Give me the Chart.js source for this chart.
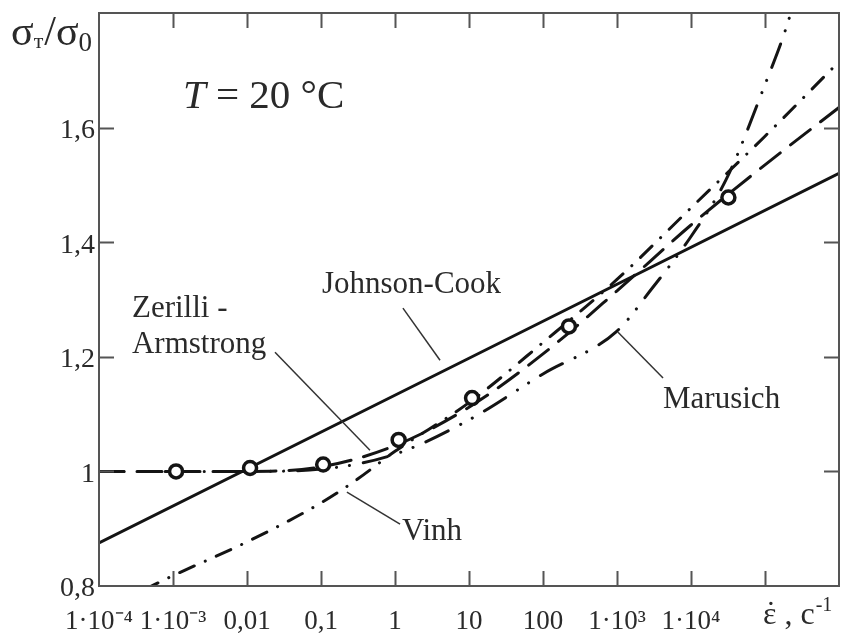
<!DOCTYPE html>
<html>
<head>
<meta charset="utf-8">
<script src="https://cdn.jsdelivr.net/npm/chart.js@4.4.1/dist/chart.umd.min.js"></script>
<style>
  html, body { margin: 0; padding: 0; background: #fff; }
  #wrap { width: 843px; height: 642px; }
</style>
</head>
<body>
<div id="wrap"><canvas id="chart" width="843" height="642"></canvas></div>
<script>
// axis ticks
const xTicks = [1e-4, 1e-3, 1e-2, 1e-1, 1, 10, 100, 1e3, 1e4, 1e5];
const xTickLabels = ['1·10⁻⁴', '1·10⁻³', '0,01', '0,1', '1', '10', '100', '1·10³', '1·10⁴', ''];
const yTicks = [0.8, 1.0, 1.2, 1.4, 1.6];
const yTickLabels = ['0,8', '1', '1,2', '1,4', '1,6'];

// Johnson-Cook
const jcRate = [1e-4, 1e6];
const jcStress = [0.875, 1.52];

// Zerilli - Armstrong
const zaRate = [1e-4, 1e-3, 1e-2, 0.1, 1, 10, 100, 1e3, 1e4, 1e5, 1e6];
const zaStress = [1.0, 1.0, 1.0, 1.008, 1.045, 1.112, 1.205, 1.315, 1.43, 1.535, 1.635];

// Vinh
const vinhRate = [4e-4, 1e-3, 1e-2, 0.1, 0.3, 1, 10, 100, 1e3, 1e4, 1e5, 1e6];
const vinhStress = [0.793, 0.818, 0.877, 0.945, 0.985, 1.035, 1.12, 1.225, 1.335, 1.46, 1.585, 1.715];

// Marusich
const marRate = [1e-4, 1e-3, 1e-2, 0.1, 1, 10, 100, 1e3, 3e3, 1e4, 3e4, 1e5, 2e5, 3e5];
const marStress = [1.0, 1.0, 1.0, 1.004, 1.03, 1.09, 1.17, 1.245, 1.32, 1.41, 1.51, 1.675, 1.78, 1.86];

// experiment
const expRate = [1.1e-3, 1.1e-2, 0.107, 1.12, 11, 224, 3.2e4];
const expStress = [1.0, 1.006, 1.012, 1.055, 1.128, 1.253, 1.478];

// curve labels and leader lines, in data coords
const notes = [
  { lines: ['Johnson-Cook'], rate: 0.103, val: 1.311, from: [1.28, 1.285], to: [4.06, 1.194] },
  { lines: ['Zerilli -', 'Armstrong'], rate: 2.79e-4, val: 1.269, from: [0.0239, 1.208], to: [0.459, 1.037] },
  { lines: ['Vinh'], rate: 1.24, val: 0.880, from: [0.224, 0.964], to: [1.17, 0.908] },
  { lines: ['Marusich'], rate: 4190, val: 1.110, from: [1033, 1.243], to: [4190, 1.163] }
];

const SERIF = "'Liberation Serif', 'Times New Roman', serif";
const INK = '#141414';

const pts = (xs, ys) => xs.map((x, i) => ({ x: x, y: ys[i] }));

function curve(data, dash) {
  return {
    data: data,
    borderColor: INK,
    borderWidth: 3,
    borderDash: dash,
    borderCapStyle: 'round',
    pointRadius: 0,
    tension: 0.4,
    cubicInterpolationMode: 'monotone',
    fill: false,
    order: 1
  };
}

// no extra padding from tick labels, keep plot box fixed
function noPad(s) {
  s.paddingTop = 0; s.paddingBottom = 0;
  s.paddingLeft = 0; s.paddingRight = 0;
}

// frame, inward ticks, texts
const decor = {
  id: 'decor',
  afterDraw(chart) {
    const c = chart.ctx;
    const a = chart.chartArea;
    const xs = chart.scales.x, ys = chart.scales.y;
    c.save();
    c.strokeStyle = '#555';
    c.lineWidth = 2;
    c.strokeRect(a.left, a.top, a.right - a.left, a.bottom - a.top);
    c.beginPath();
    xTicks.slice(1).forEach(v => {
      const p = Math.round(xs.getPixelForValue(v)) + 0.5;
      c.moveTo(p, a.bottom); c.lineTo(p, a.bottom - 15);
      c.moveTo(p, a.top); c.lineTo(p, a.top + 15);
    });
    yTicks.slice(1).forEach(v => {
      const p = Math.round(ys.getPixelForValue(v)) + 0.5;
      c.moveTo(a.left, p); c.lineTo(a.left + 15, p);
      c.moveTo(a.right, p); c.lineTo(a.right - 15, p);
    });
    c.stroke();

    // leader lines
    c.strokeStyle = '#333';
    c.lineWidth = 1.5;
    notes.forEach(n => {
      c.beginPath();
      c.moveTo(xs.getPixelForValue(n.from[0]), ys.getPixelForValue(n.from[1]));
      c.lineTo(xs.getPixelForValue(n.to[0]), ys.getPixelForValue(n.to[1]));
      c.stroke();
    });

    // curve names
    c.fillStyle = '#2a2a2a';
    c.textAlign = 'left';
    c.textBaseline = 'alphabetic';
    c.font = '31px ' + SERIF;
    notes.forEach(n => {
      const x = xs.getPixelForValue(n.rate);
      const y = ys.getPixelForValue(n.val);
      n.lines.forEach((t, i) => c.fillText(t, x, y + i * 36));
    });

    // T = 20 °C
    let tx = xs.getPixelForValue(1.36e-3);
    const ty = ys.getPixelForValue(1.634);
    c.font = 'italic 41px ' + SERIF;
    c.fillText('T', tx, ty);
    tx += c.measureText('T').width;
    c.font = '41px ' + SERIF;
    c.fillText(' = 20 °C', tx, ty);

    // y axis title: sigma_T / sigma_0
    let sx = 11;
    const sy = 45;
    c.font = '42px ' + SERIF;
    c.fillText('σ', sx, sy); sx += c.measureText('σ').width;
    c.font = '22px ' + SERIF;
    c.fillText('т', sx, sy + 3); sx += c.measureText('т').width + 1;
    c.font = '42px ' + SERIF;
    c.fillText('/σ', sx, sy); sx += c.measureText('/σ').width;
    c.font = '27px ' + SERIF;
    c.fillText('0', sx, sy + 6);

    // x axis title: strain rate, c^-1
    let ex = xs.getPixelForValue(1e5) - 2;
    const ey = 624;
    c.font = '32px ' + SERIF;
    const ew = c.measureText('ε').width;
    c.fillText('ε', ex, ey);
    c.textAlign = 'center';
    c.fillText('˙', ex + ew / 2 + 1, ey - 1);
    c.textAlign = 'left';
    ex += ew;
    c.fillText(' , c', ex, ey); ex += c.measureText(' , c').width;
    c.font = '20px ' + SERIF;
    c.fillText('-1', ex + 1, ey - 13);
    c.restore();
  }
};

new Chart(document.getElementById('chart'), {
  type: 'line',
  data: {
    datasets: [
      curve(pts(jcRate, jcStress), []),
      curve(pts(zaRate, zaStress), [25, 13]),
      curve(pts(vinhRate, vinhStress), [16, 12, 0.1, 12]),
      curve(pts(marRate, marStress), [25, 14, 0.1, 13, 0.1, 14]),
      {
        data: pts(expRate, expStress),
        showLine: false,
        pointStyle: 'circle',
        pointRadius: 6.5,
        pointBorderWidth: 3.5,
        pointBorderColor: INK,
        pointBackgroundColor: '#fff',
        order: 0
      }
    ]
  },
  options: {
    responsive: false,
    animation: false,
    layout: { autoPadding: false, padding: { top: 13, right: 4, left: 0, bottom: 0 } },
    plugins: { legend: { display: false }, tooltip: { enabled: false } },
    scales: {
      x: {
        type: 'logarithmic',
        min: 1e-4,
        max: 1e6,
        afterBuildTicks: s => { s.ticks = xTicks.map(v => ({ value: v })); },
        afterFit: s => { s.height = 56; noPad(s); },
        grid: { display: false, drawTicks: false },
        border: { display: false },
        ticks: {
          autoSkip: false,
          maxRotation: 0,
          minRotation: 0,
          padding: 20,
          color: '#2a2a2a',
          font: { family: SERIF, size: 27 },
          callback: (v, i) => xTickLabels[i]
        }
      },
      y: {
        min: 0.8,
        max: 1.8,
        afterBuildTicks: s => { s.ticks = yTicks.map(v => ({ value: v })); },
        afterFit: s => { s.width = 99; noPad(s); },
        grid: { display: false, drawTicks: false },
        border: { display: false },
        ticks: {
          padding: 4,
          labelOffset: 3,
          color: '#2a2a2a',
          font: { family: SERIF, size: 28 },
          callback: (v, i) => yTickLabels[i]
        }
      }
    }
  },
  plugins: [decor]
});
</script>
</body>
</html>
